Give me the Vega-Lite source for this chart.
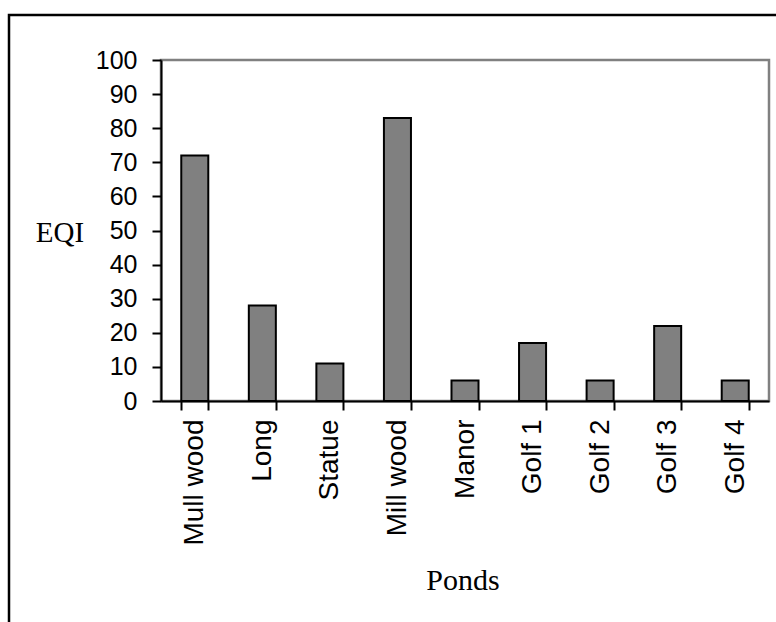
{
  "$schema": "https://vega.github.io/schema/vega-lite/v6.json",
  "autosize": "none",
  "width": 608,
  "height": 341,
  "padding": {"left": 161, "top": 60, "right": 7, "bottom": 221},
  "background": "white",
  "config": {
    "view": {"stroke": "#808080", "strokeWidth": 2.5},
    "axis": {
      "domainColor": "black",
      "domainWidth": 2,
      "tickColor": "black",
      "tickWidth": 2,
      "grid": false,
      "labelFont": "Liberation Sans",
      "labelColor": "black",
      "titleFont": "Liberation Serif",
      "titleFontWeight": "normal",
      "titleColor": "black"
    },
    "axisY": {
      "values": [0, 10, 20, 30, 40, 50, 60, 70, 80, 90, 100],
      "labelOverlap": false,
      "labelFontSize": 25,
      "labelPadding": 15,
      "tickSize": 9,
      "titleAngle": 0,
      "titleFontSize": 29,
      "titleX": -101.5,
      "titleY": 181.7,
      "titleAlign": "center",
      "titleBaseline": "alphabetic"
    }
  },
  "data": {
    "values": [
      {"pond": "Mull wood", "eqi": 72},
      {"pond": "Long", "eqi": 28},
      {"pond": "Statue", "eqi": 11},
      {"pond": "Mill wood", "eqi": 83},
      {"pond": "Manor", "eqi": 6},
      {"pond": "Golf 1", "eqi": 17},
      {"pond": "Golf 2", "eqi": 6},
      {"pond": "Golf 3", "eqi": 22},
      {"pond": "Golf 4", "eqi": 6}
    ]
  },
  "layer": [
    {
      "mark": {"type": "bar", "color": "#808080", "stroke": "black", "strokeWidth": 2},
      "encoding": {
        "x": {
          "field": "pond",
          "type": "nominal",
          "sort": null,
          "scale": {"paddingInner": 0.6, "paddingOuter": 0.3},
          "axis": {
            "title": "Ponds",
            "titleFontSize": 30,
            "titleX": 301.5,
            "titleY": 188,
            "titleBaseline": "alphabetic",
            "titleAlign": "center",
            "labelAngle": -90,
            "labelAlign": "right",
            "labelBaseline": "middle",
            "labelFontSize": 28,
            "labelPadding": 9,
            "labelOverlap": false,
            "tickSize": 9,
            "tickBand": "extent"
          }
        },
        "y": {
          "field": "eqi",
          "type": "quantitative",
          "title": "EQI",
          "scale": {"domain": [0, 100], "nice": false}
        }
      }
    },
    {
      "data": {"values": [{"frame": 1}]},
      "mark": {"type": "rect", "fill": null, "stroke": "black", "strokeWidth": 2.5, "clip": false},
      "encoding": {
        "x": {"datum": -0.25, "type": "quantitative", "scale": {"domain": [0, 1]}, "axis": null},
        "x2": {"datum": 1.2},
        "y": {"datum": 113.2, "type": "quantitative", "title": "EQI"},
        "y2": {"datum": -80}
      }
    }
  ],
  "resolve": {"scale": {"x": "independent"}}
}
